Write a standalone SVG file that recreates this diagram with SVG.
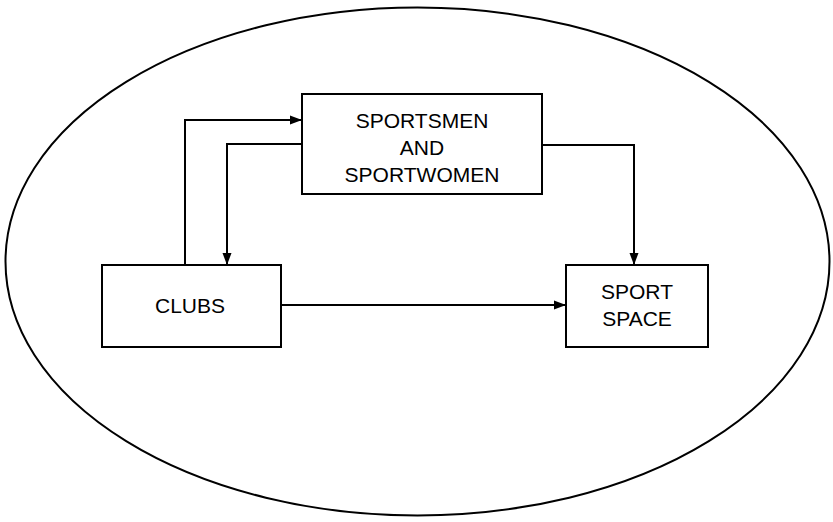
<svg xmlns="http://www.w3.org/2000/svg" width="833" height="522" viewBox="0 0 833 522">
<style>
.box{fill:#fff;stroke:#000;stroke-width:2}
.ln{fill:none;stroke:#000;stroke-width:2;marker-end:url(#ah)}
text{font-family:"Liberation Sans",Arial,sans-serif;font-size:21px;text-anchor:middle;fill:#000}
</style>
<defs>
<marker id="ah" viewBox="0 0 12 10" refX="12" refY="5" markerWidth="12" markerHeight="10" markerUnits="userSpaceOnUse" orient="auto">
<path d="M0,0.5 L12,5 L0,9.5 Z" fill="#000"/>
</marker>
</defs>
<ellipse id="boundary" cx="417.5" cy="261.5" rx="412" ry="254" fill="none" stroke="#000" stroke-width="2"/>
<g id="connectors">
<path class="ln" d="M185,265 V120 H302"/>
<path class="ln" d="M302,144 H227 V265"/>
<path class="ln" d="M542,145 H634 V265"/>
<path class="ln" d="M281,305 H566"/>
</g>
<g id="sportsmen">
<rect class="box" x="302" y="94" width="240" height="100"/>
<text x="422" y="128">SPORTSMEN</text>
<text x="422" y="155">AND</text>
<text x="422" y="182">SPORTWOMEN</text>
</g>
<g id="clubs">
<rect class="box" x="102" y="265" width="179" height="82"/>
<text x="190" y="313">CLUBS</text>
</g>
<g id="sportspace">
<rect class="box" x="566" y="265" width="142" height="82"/>
<text x="637" y="299">SPORT</text>
<text x="637" y="326">SPACE</text>
</g>
</svg>
